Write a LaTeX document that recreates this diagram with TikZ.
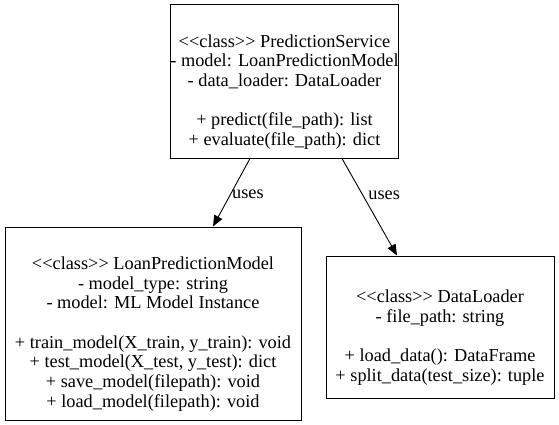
\documentclass[tikz,border=0pt]{standalone}
\usepackage{fontspec}
\setmainfont{Liberation Serif}
\usetikzlibrary{positioning}
\usetikzlibrary{arrows.meta}
\tikzset{
    class diagram/.style={
            x=1pt,y=-1pt,
            font=\fontsize{18.3}{19.7}\selectfont,
            umlclass/.style={draw,line width=1pt,align=center,inner sep=0pt},
            uses/.style={line width=0.9pt,-{Triangle[length=11pt,width=9pt]}}
        }
    }
\newcommand{\stereo}{<{}<class>{}>}

\begin{document}
\begin{tikzpicture}[class diagram]
                \useasboundingbox (0,0) rectangle (559,425);
                \node (ps) [umlclass,minimum width=225pt,minimum height=153pt] at (284.5,81.5)
                    {\strut\\ \stereo{} PredictionService\\ - model: LoanPredictionModel\\ - data\_loader: DataLoader\\ {}\\ + predict(file\_path): list\\ + evaluate(file\_path): dict};
                \node (lpm) [umlclass,minimum width=296pt,minimum height=193pt] at (153,323.5)
                    {\strut\\ \stereo{} LoanPredictionModel\\ - model\_type: string\\ - model: ML Model Instance\\ {}\\ + train\_model(X\_train, y\_train): void\\ + test\_model(X\_test, y\_test): dict\\ + save\_model(filepath): void\\ + load\_model(filepath): void};
                \node (dl) [umlclass,minimum width=228pt,minimum height=142pt] at (440,327)
                    {\strut\\ \stereo{} DataLoader\\ - file\_path: string\\ {}\\ + load\_data(): DataFrame\\ + split\_data(test\_size): tuple};
                \draw [uses] ([xshift=-34.5pt]ps.south) -- ([xshift=60pt]lpm.north) node [pos=0.52,anchor=west,inner sep=1pt] {uses};
                \draw [uses] ([xshift=57.5pt]ps.south) -- ([xshift=-43pt]dl.north) node [pos=0.38,anchor=west,inner sep=5pt] {uses};
            \end{tikzpicture}
\end{document}
